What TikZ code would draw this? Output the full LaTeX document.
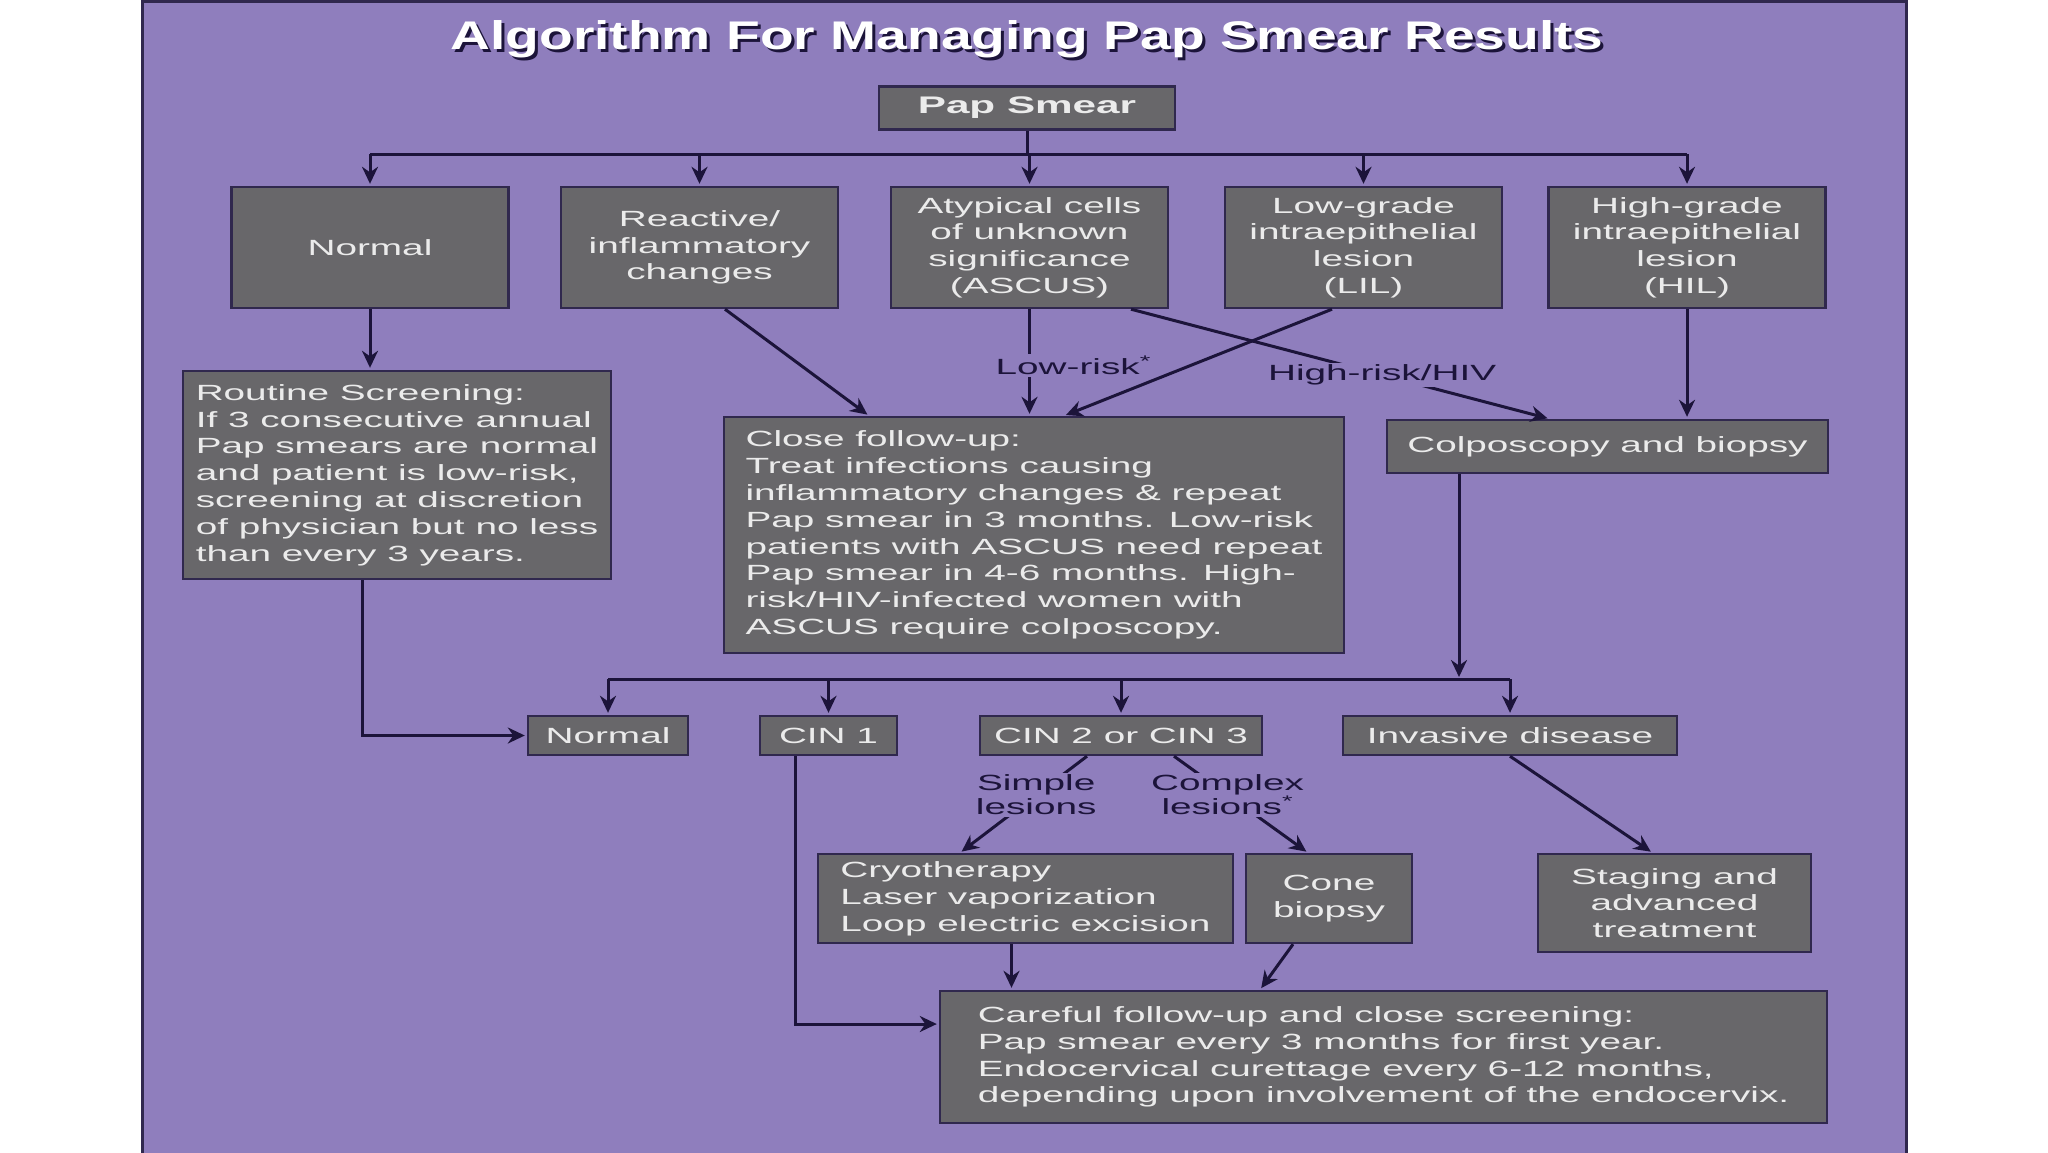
\documentclass[tikz,border=0pt]{standalone}
\usepackage{fontspec}
\setmainfont{Liberation Sans}[FakeStretch=1.76]
\newfontfamily\titlefont{Liberation Sans}[FakeStretch=1.38]
\usetikzlibrary{arrows.meta}
\definecolor{panel}{RGB}{143,126,189}
\definecolor{boxgray}{RGB}{104,103,106}
\definecolor{boxedge}{RGB}{48,40,78}
\definecolor{ink}{RGB}{28,20,58}
\begin{document}
\begin{tikzpicture}[x=0.5pt,y=-0.5pt,
    box/.style={draw=boxedge,fill=boxgray,line width=1.2pt,text=white!92!black,
      font=\fontsize{11}{13.4}\selectfont,inner sep=2pt},
    toprow/.style={box,minimum width=138.5pt,minimum height=60.5pt,align=center},
    lowrow/.style={box,minimum height=19.5pt},
    line/.style={draw=ink,line width=1.5pt},
    arr/.style={line,-{Stealth[length=8.5pt,width=8pt]},shorten >=1pt},
    lbl/.style={text=ink,fill=panel,inner sep=1pt,align=center,
      font=\fontsize{11}{11.8}\selectfont},
    titletext/.style={font=\titlefont\bfseries\fontsize{20}{24}\selectfont}]
  \useasboundingbox (0,0) rectangle (2048,1152);
  \draw[fill=panel,draw=boxedge,line width=1.5pt] (142,1) rectangle (1906,1160);

  \node[titletext,text=ink] at (1030,42) {Algorithm For Managing Pap Smear Results};
  \node (title) [titletext,text=white] at (1027,39) {Algorithm For Managing Pap Smear Results};

  \node (pap) [box,minimum width=148pt,minimum height=21.5pt,
    font=\bfseries\fontsize{12}{14}\selectfont] at (1027,108) {Pap Smear};

  \node (normA) [toprow] at (370,247.5) {Normal};
  \node (reactive) [toprow] at (699.5,247.5) {Reactive/\\inflammatory\\changes};
  \node (ascus) [toprow] at (1029.5,247.5) {Atypical cells\\of unknown\\significance\\(ASCUS)};
  \node (lil) [toprow] at (1363.5,247.5) {Low-grade\\intraepithelial\\lesion\\(LIL)};
  \node (hil) [toprow] at (1687,247.5) {High-grade\\intraepithelial\\lesion\\(HIL)};

  \node (routine) [box,minimum width=214pt,minimum height=104pt,align=left] at (397,475)
    {Routine Screening:\\If 3 consecutive annual\\Pap smears are normal\\and patient is low-risk,\\screening at discretion\\of physician but no less\\than every 3 years.};
  \node (close) [box,minimum width=310pt,minimum height=118pt,align=left] at (1034,535)
    {Close follow-up:\\Treat infections causing\\inflammatory changes \& repeat\\Pap smear in 3 months. Low-risk\\patients with ASCUS need repeat\\Pap smear in 4-6 months. High-\\risk/HIV-infected women with\\ASCUS require colposcopy.};
  \node (colpo) [box,minimum width=220.5pt,minimum height=26.5pt] at (1607.5,446.5) {Colposcopy and biopsy};

  \node (normB) [lowrow,minimum width=80pt] at (608,735.5) {Normal};
  \node (cin1) [lowrow,minimum width=68.5pt] at (828.5,735.5) {CIN 1};
  \node (cin23) [lowrow,minimum width=141pt] at (1121,735.5) {CIN 2 or CIN 3};
  \node (invasive) [lowrow,minimum width=167pt] at (1510,735.5) {Invasive disease};

  \node (cryo) [box,minimum width=207.5pt,minimum height=44.5pt,align=left] at (1025.5,898.5)
    {Cryotherapy\\Laser vaporization\\Loop electric excision};
  \node (cone) [box,minimum width=83pt,minimum height=44.5pt,align=center] at (1329,898.5) {Cone\\biopsy};
  \node (staging) [box,minimum width=136.5pt,minimum height=49pt,align=center] at (1674.5,903)
    {Staging and\\advanced\\treatment};
  \node (careful) [box,minimum width=443.5pt,minimum height=66pt,align=left] at (1383.5,1057)
    {Careful follow-up and close screening:\\Pap smear every 3 months for first year.\\Endocervical curettage every 6-12 months,\\depending upon involvement of the endocervix.};

  \coordinate (bus1) at (1027,154);
  \draw[line] (pap) -- (bus1);
  \draw[line] (normA.north |- bus1) -- (hil.north |- bus1);
  \foreach \n in {normA,reactive,ascus,lil,hil}
    \draw[arr] (\n.north |- bus1) -- (\n.north);

  \draw[arr] (normA.south) -- (normA.south |- routine.north);
  \draw[arr] ([xshift=12.75pt]reactive.south) -- ([xshift=-82.5pt]close.north);
  \draw[arr] (ascus.south) -- (ascus.south |- close.north)
    node[lbl,pos=0.53,xshift=22pt] {Low-risk\textsuperscript{*}};
  \draw[arr] ([xshift=50.75pt]ascus.south) -- ([xshift=-29pt]colpo.north)
    node[lbl,pos=0.6] {High-risk/HIV};
  \draw[arr] ([xshift=-15.75pt]lil.south) -- ([xshift=15pt]close.north);
  \draw[arr] (hil.south) -- (hil.south |- colpo.north);

  \coordinate (bus2) at (1459,679);
  \draw[arr] (bus2 |- colpo.south) -- (bus2);
  \draw[line] (normB.north |- bus2) -- (invasive.north |- bus2);
  \foreach \n in {normB,cin1,cin23,invasive}
    \draw[arr] (\n.north |- bus2) -- (\n.north);

  \draw[arr] ([xshift=-17.5pt]routine.south) |- (normB.west);
  \draw[arr] ([xshift=-16.75pt]cin1.south) |- ([yshift=16.5pt]careful.west);
  \draw[arr] ([xshift=-17pt]cin23.south) -- ([xshift=-32.75pt]cryo.north)
    node[lbl,pos=0.4] {Simple\\lesions};
  \draw[arr] ([xshift=26.5pt]cin23.south) -- ([xshift=-10.5pt]cone.north)
    node[lbl,pos=0.4] {Complex\\lesions\textsuperscript{*}};
  \draw[arr] (invasive.south) -- ([xshift=-11pt]staging.north);
  \draw[arr] ([xshift=-7pt]cryo.south) -- ([xshift=-7pt]cryo.south |- careful.north);
  \draw[arr] ([xshift=-18pt]cone.south) -- ([xshift=-61.75pt]careful.north);
\end{tikzpicture}
\end{document}
